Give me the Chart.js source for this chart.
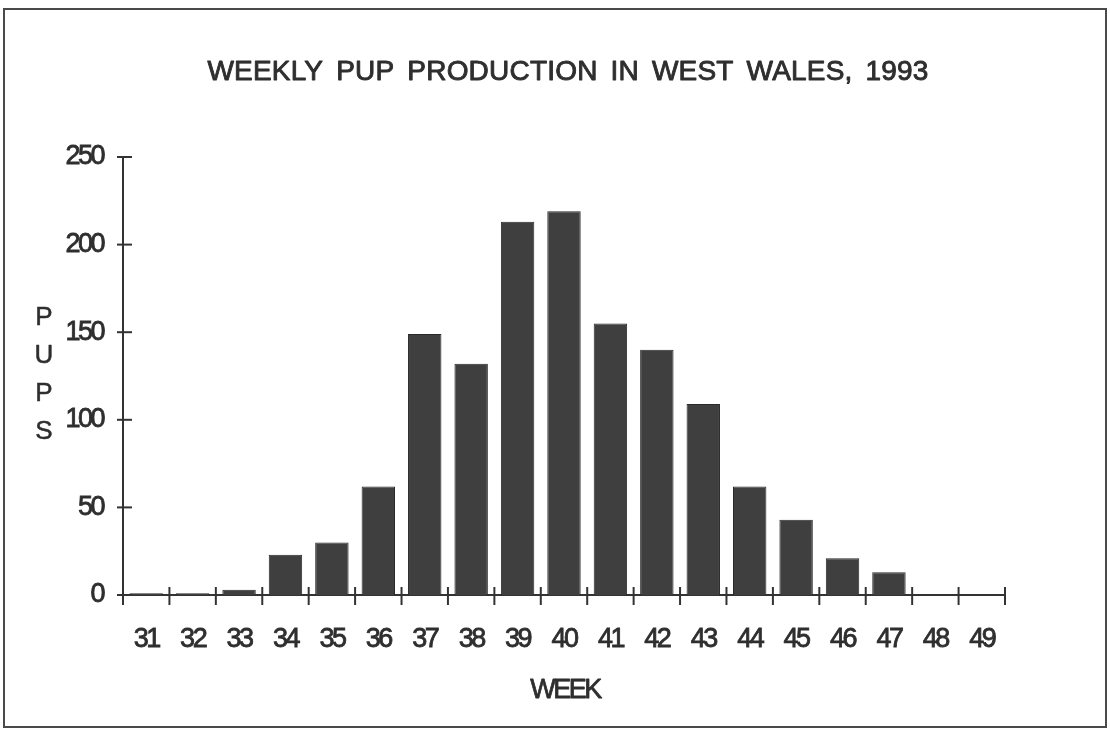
<!DOCTYPE html>
<html>
<head>
<meta charset="utf-8">
<title>Weekly pup production in West Wales, 1993</title>
<script src="https://cdn.jsdelivr.net/npm/chart.js@4.4.1/dist/chart.umd.min.js"></script>
<style>
  html, body { margin: 0; padding: 0; background: #fff; }
  #wrap { position: relative; width: 1110px; height: 732px; }
  #frame {
    position: absolute; left: 3px; top: 8px; width: 1100px; height: 716px;
    border: 2px solid #4a4a4a; pointer-events: none;
  }
  canvas { position: absolute; left: 0; top: 0; }
</style>
</head>
<body>
<div id="wrap">
  <canvas id="pupChart" width="1110" height="732"></canvas>
  <div id="frame"></div>
</div>
<script>
// --- data ---
const weeks = ['31', '32', '33', '34', '35', '36', '37', '38', '39', '40',
               '41', '42', '43', '44', '45', '46', '47', '48', '49'];
const pups = [1, 1, 3, 23, 30, 62, 149, 132, 213, 219, 155, 140, 109, 62, 43, 21, 13, 0, 0];
const yTicks = [0, 50, 100, 150, 200, 250];

const chartTitle = 'WEEKLY PUP PRODUCTION IN WEST WALES, 1993';
const xTitle = 'WEEK';
const yTitle = ['P', 'U', 'P', 'S'];

const ink = '#2e2e2e';
const axisColor = '#333';
const fontFamily = '"Liberation Sans", Arial, Helvetica, sans-serif';

// draw text a little heavier than the regular face
function heavyText(ctx, str, px, py, w) {
  ctx.lineWidth = w;
  ctx.strokeStyle = ink;
  ctx.strokeText(str, px, py);
  ctx.fillText(str, px, py);
}

// titles + tick marks that cross the axes (Chart.js only draws them outward)
const decor = {
  id: 'decor',
  beforeDraw(chart) {
    chart.ctx.letterSpacing = '-2.5px';
  },
  afterDraw(chart) {
    const { ctx, scales: { x, y } } = chart;
    ctx.save();
    ctx.strokeStyle = axisColor;
    ctx.lineWidth = 2;

    // y ticks
    yTicks.forEach(v => {
      const py = y.getPixelForValue(v);
      ctx.beginPath();
      ctx.moveTo(x.left - 6, py);
      ctx.lineTo(x.left + 9, py);
      ctx.stroke();
    });

    // x ticks sit between the weeks
    const half = (x.getPixelForValue(1) - x.getPixelForValue(0)) / 2;
    for (let i = 0; i <= weeks.length; i++) {
      const px = i < weeks.length ? x.getPixelForValue(i) - half : x.getPixelForValue(i - 1) + half;
      ctx.beginPath();
      ctx.moveTo(px, y.bottom - 8);
      ctx.lineTo(px, y.bottom + 10);
      ctx.stroke();
    }

    ctx.fillStyle = ink;
    ctx.textAlign = 'center';
    ctx.textBaseline = 'middle';
    ctx.lineJoin = 'round';

    // main title
    ctx.font = `28px ${fontFamily}`;
    ctx.letterSpacing = '0.2px';
    ctx.wordSpacing = '5px';
    heavyText(ctx, chartTitle, 568, 72, 0.9);
    ctx.wordSpacing = '0px';

    // x axis title
    ctx.font = `27px ${fontFamily}`;
    ctx.letterSpacing = '-2.5px';
    heavyText(ctx, xTitle, (x.left + x.right) / 2 + 1, 691, 0.8);

    // y axis title, one letter per line
    ctx.font = `26px ${fontFamily}`;
    ctx.letterSpacing = '0px';
    yTitle.forEach((ch, i) => heavyText(ctx, ch, 44, 318 + i * 38, 0.5));

    ctx.restore();
  }
};

const ctx = document.getElementById('pupChart').getContext('2d');

new Chart(ctx, {
  type: 'bar',
  data: {
    labels: weeks,
    datasets: [{
      data: pups,
      backgroundColor: '#3f3f3f',
      borderColor: '#2a2a2a',
      borderWidth: 1,
      categoryPercentage: 1,
      barPercentage: 0.72
    }]
  },
  options: {
    responsive: false,
    animation: false,
    layout: { padding: { top: 157, right: 105, bottom: 0, left: 0 } },
    plugins: {
      legend: { display: false },
      title: { display: false },
      tooltip: { enabled: false }
    },
    scales: {
      x: {
        grid: { display: false, drawTicks: false },
        border: { display: true, color: axisColor, width: 2 },
        ticks: {
          color: ink,
          padding: 28,
          maxRotation: 0,
          autoSkip: false,
          textStrokeColor: ink,
          textStrokeWidth: 0.8,
          font: { family: fontFamily, size: 27 }
        },
        afterFit(scale) { scale.height = 137; }
      },
      y: {
        min: 0,
        max: 250,
        grid: { display: false, drawTicks: false },
        border: { display: true, color: axisColor, width: 2 },
        afterBuildTicks(scale) { scale.ticks = yTicks.map(v => ({ value: v })); },
        ticks: {
          color: ink,
          padding: 20,
          textStrokeColor: ink,
          textStrokeWidth: 0.8,
          font: { family: fontFamily, size: 27 }
        },
        afterFit(scale) { scale.width = 123; }
      }
    }
  },
  plugins: [decor]
});
</script>
</body>
</html>
